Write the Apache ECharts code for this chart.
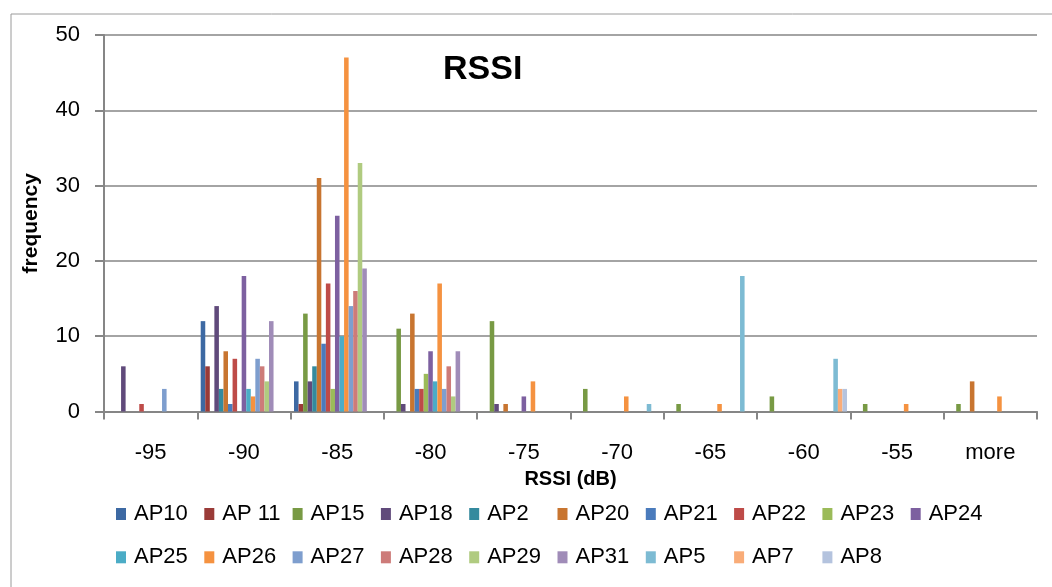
<!DOCTYPE html>
<html>
<head>
<meta charset="utf-8">
<script src="https://cdn.jsdelivr.net/npm/echarts@6/dist/echarts.min.js"></script>
<style>
html,body{margin:0;padding:0;background:#fff;}
#chart{width:1052px;height:587px;}
</style>
</head>
<body>
<div id="chart"></div>
<script>
const categories = ['-95','-90','-85','-80','-75','-70','-65','-60','-55','more'];
const seriesNames = ['AP10','AP 11','AP15','AP18','AP2','AP20','AP21','AP22','AP23','AP24','AP25','AP26','AP27','AP28','AP29','AP31','AP5','AP7','AP8'];

const ap10 = [0,12,4,0,0,0,0,0,0,0];
const ap11 = [0,6,1,0,0,0,0,0,0,0];
const ap15 = [0,0,13,11,12,3,1,2,1,1];
const ap18 = [6,14,4,1,1,0,0,0,0,0];
const ap2  = [0,3,6,0,0,0,0,0,0,0];
const ap20 = [0,8,31,13,1,0,0,0,0,4];
const ap21 = [0,1,9,3,0,0,0,0,0,0];
const ap22 = [1,7,17,3,0,0,0,0,0,0];
const ap23 = [0,0,3,5,0,0,0,0,0,0];
const ap24 = [0,18,26,8,2,0,0,0,0,0];
const ap25 = [0,3,10,4,0,0,0,0,0,0];
const ap26 = [0,2,47,17,4,2,1,0,1,2];
const ap27 = [3,7,14,3,0,0,0,0,0,0];
const ap28 = [0,6,16,6,0,0,0,0,0,0];
const ap29 = [0,4,33,2,0,0,0,0,0,0];
const ap31 = [0,12,19,8,0,0,0,0,0,0];
const ap5  = [0,0,0,0,0,1,18,7,0,0];
const ap7  = [0,0,0,0,0,0,0,3,0,0];
const ap8  = [0,0,0,0,0,0,0,3,0,0];

const seriesValues = [ap10,ap11,ap15,ap18,ap2,ap20,ap21,ap22,ap23,ap24,ap25,ap26,ap27,ap28,ap29,ap31,ap5,ap7,ap8];
const yTicks = [0,10,20,30,40,50];

const palette = ['#3D69A3','#9A3B38','#789A44','#604A7B','#348A9E','#C87530','#4A7BBC','#BE4B48','#9BBB59','#7D60A0','#4BACC6','#F59240','#7E9ECE','#CD7B79','#B0CB80','#A08CB8','#7DBBD3','#F9AC78','#B4C3DE'];

const FONT = 'Liberation Sans';
const AXIS = '#868686';

const chart = echarts.init(document.getElementById('chart'), null, {renderer:'canvas'});
chart.setOption({
  animation: false,
  backgroundColor: '#fff',
  color: palette,
  graphic: [{
    type: 'rect', left: 8.5, top: 11.5, silent: true,
    shape: {width: 1100, height: 700},
    style: {fill: 'none', stroke: '#9a9a9a', lineWidth: 1}
  }],
  title: {
    text: 'RSSI', left: 443, top: 53, padding: 0,
    textStyle: {fontFamily: FONT, fontSize: 34, fontWeight: 'bold', color: '#000'}
  },
  legend: {
    data: seriesNames,
    left: 116, top: 497.5, width: 900, padding: 0,
    itemWidth: 10, itemHeight: 12, itemGap: 10.3,
    icon: 'rect',
    textStyle: {fontFamily: FONT, fontSize: 22, color: '#000', width: 60, lineHeight: 33, padding: [0,0,0,3]}
  },
  grid: {left: 104, right: 15, top: 35, bottom: 175.5, containLabel: false},
  xAxis: {
    type: 'category', data: categories,
    name: 'RSSI (dB)', nameLocation: 'middle', nameGap: 58,
    nameTextStyle: {fontFamily: FONT, fontSize: 20, fontWeight: 'bold', color: '#000'},
    axisLine: {lineStyle: {color: AXIS, width: 2}},
    axisTick: {show: true, length: 8, lineStyle: {color: AXIS, width: 2}},
    axisLabel: {fontFamily: FONT, fontSize: 22, color: '#000', margin: 30},
    splitLine: {show: false}
  },
  yAxis: {
    type: 'value', min: 0, max: 50, interval: 10,
    name: 'frequency', nameLocation: 'middle', nameGap: 62, nameRotate: 90,
    nameTextStyle: {fontFamily: FONT, fontSize: 21, fontWeight: 'bold', color: '#000'},
    axisLine: {show: true, lineStyle: {color: AXIS, width: 2}},
    axisTick: {show: true, length: 9, lineStyle: {color: AXIS, width: 2}},
    axisLabel: {fontFamily: FONT, fontSize: 22, color: '#000', margin: 24,
      formatter: v => yTicks.includes(v) ? String(v) : ''},
    splitLine: {show: true, lineStyle: {color: AXIS, width: 1.5}}
  },
  series: seriesNames.map((n, i) => ({
    name: n, type: 'bar', data: seriesValues[i],
    barGap: '0%', barCategoryGap: '7.3%',
    itemStyle: {color: palette[i]}
  }))
});
</script>
</body>
</html>
